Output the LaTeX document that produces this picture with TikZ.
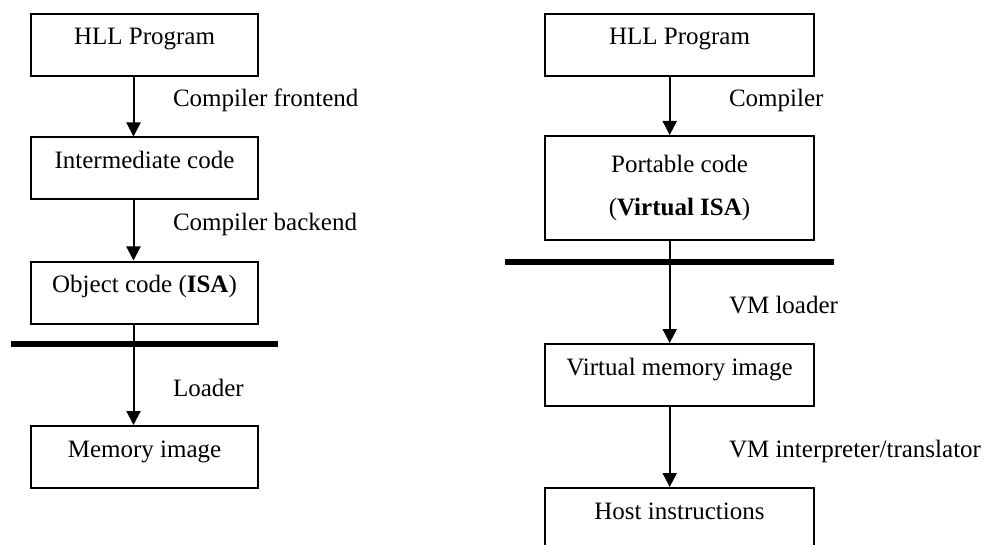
\documentclass[tikz,border=0pt]{standalone}
\usepackage{fontspec}
\setmainfont{Liberation Serif}
\usetikzlibrary{arrows.meta}

\begin{document}
\begin{tikzpicture}[x=1pt, y=-1pt, line width=2pt,
        font=\fontsize{25}{30}\selectfont,
        box/.style={draw, inner sep=0pt, minimum height=62pt, text height=17pt, text depth=17pt},
        twobox/.style={draw, inner sep=0pt, minimum height=104pt, align=center},
        lbl/.style={anchor=base west, inner sep=0pt},
        flow/.style={-{Triangle[length=14pt, width=14pt]}},
        bar/.style={line width=5.5pt}]
        \useasboundingbox (0,0) rectangle (987,545);
        \clip (0,0) rectangle (987,545);
        % left: conventional compilation
        \node[box, minimum width=227pt] (hllL) at (144.5,45) {HLL Program};
        \node[box, minimum width=227pt] (interL) at (144.5,168.5) {Intermediate code};
        \node[box, minimum width=227pt] (objL) at (144.5,292.5) {Object code (\textbf{ISA})};
        \node[box, minimum width=227pt] (memL) at (144.5,457) {Memory image};
        \coordinate (axL) at (133.5,0);
        \coordinate (barLa) at (11,344);
        \coordinate (barLb) at (278,344);
        \draw[bar] (barLa) -- (barLb);
        \draw[flow] (hllL.south -| axL) -- (interL.north -| axL);
        \draw[flow] (interL.south -| axL) -- (objL.north -| axL);
        \draw[flow] (objL.south -| axL) -- (memL.north -| axL);
        \node[lbl] (cfL) at (172,107) {Compiler frontend};
        \node[lbl] (cbL) at (172,231) {Compiler backend};
        \node[lbl] (ldL) at (172,396) {Loader};
        % right: virtual machine
        \node[box, minimum width=269pt] (hllR) at (679.5,45) {HLL Program};
        \node[twobox, minimum width=269pt] (portR) at (679.5,188) {Portable code\\[13pt](\textbf{Virtual ISA})};
        \node[box, minimum width=269pt] (vmiR) at (679.5,375) {Virtual memory image};
        \node[box, minimum width=269pt] (hostR) at (679.5,519) {Host instructions};
        \coordinate (axR) at (669.7,0);
        \coordinate (barRa) at (505,262);
        \coordinate (barRb) at (834,262);
        \draw[bar] (barRa) -- (barRb);
        \draw[flow] (hllR.south -| axR) -- (portR.north -| axR);
        \draw[flow] (portR.south -| axR) -- (vmiR.north -| axR);
        \draw[flow] (vmiR.south -| axR) -- (hostR.north -| axR);
        \node[lbl] (cR) at (728,107) {Compiler};
        \node[lbl] (vlR) at (728,313) {VM loader};
        \node[lbl] (viR) at (728,457.7) {VM interpreter/translator};
    \end{tikzpicture}
\end{document}
